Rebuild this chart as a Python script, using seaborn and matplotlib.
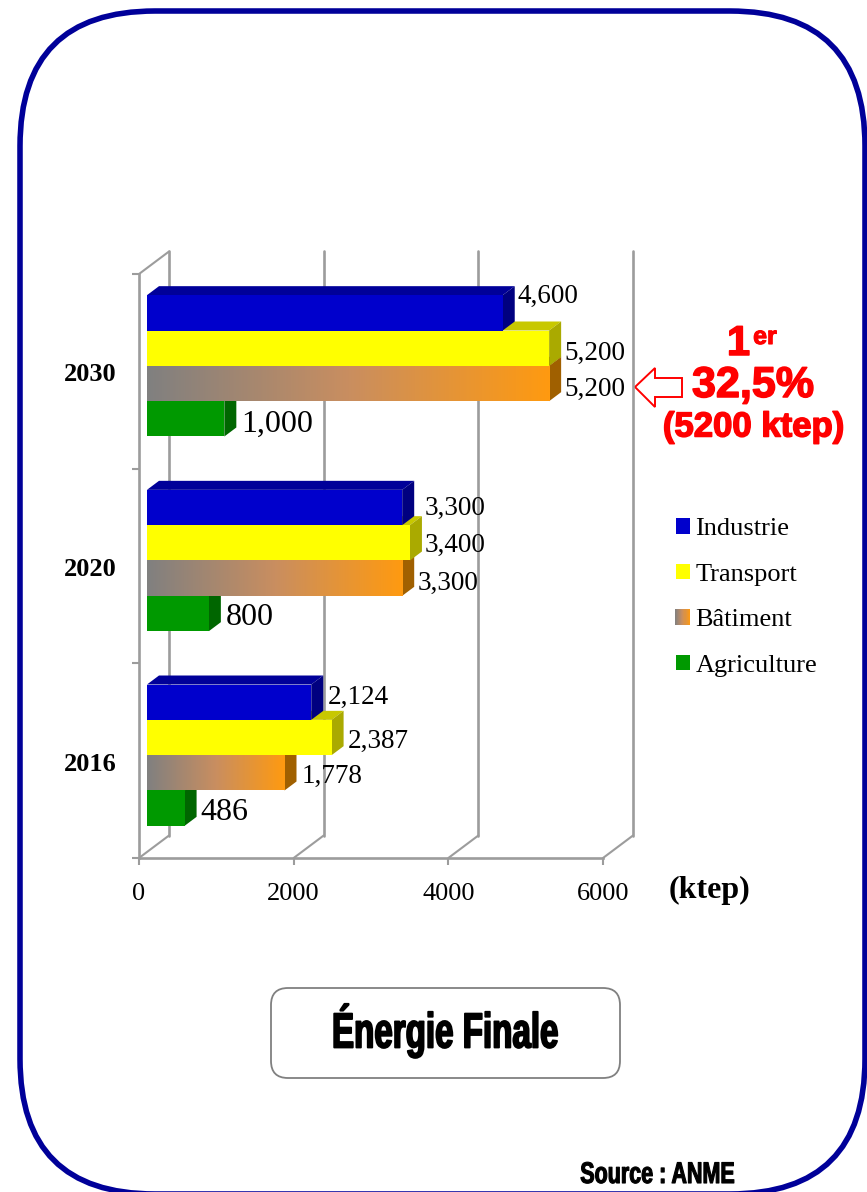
import numpy as np
import pandas as pd
import matplotlib
matplotlib.use("Agg")
import matplotlib.pyplot as plt
import matplotlib.patheffects as pe
from matplotlib.colors import LinearSegmentedColormap
from matplotlib.patches import FancyBboxPatch, Polygon, Patch, Rectangle
from matplotlib.legend_handler import HandlerBase
from matplotlib.transforms import Affine2D
import seaborn as sns

# ---- data
years = ["2030", "2020", "2016"]
sectors = ["Industrie", "Transport", "Bâtiment", "Agriculture"]
industrie = [4600, 3300, 2124]
transport = [5200, 3400, 2387]
batiment = [5200, 3300, 1778]
agriculture = [1000, 800, 486]
x_ticks = [0, 2000, 4000, 6000]

# ---- styles
front = ["#0000CC", "#FFFF00", "#808080", "#009900"]
top_col = ["#000099", "#C8C800", "#A86800", "#006E00"]
side_col = ["#000080", "#AAAA00", "#A06000", "#006600"]
GRID = "#9C9C9C"
RED = "#FF0000"
NAVY = "#000099"
grad_cmap = LinearSegmentedColormap.from_list("bat", ["#808080", "#C98E60", "#FF9A10"])

# label nudges in pixels relative to bar end / centre (dx, dy up)
label_dx = [[15, 15, 15, 17], [22, 15, 15, 17], [16, 16, 17, 16]]
label_dy = [[19, -2, -2.5, -2], [2, 0, -2, -1.5], [8, -1, -1, -1]]
label_fs = [19.5, 19.5, 19.5, 23]


class Condensed(pe.AbstractPathEffect):
    """Squeeze live text horizontally about cx (display px) and thicken it."""

    def __init__(self, cx, sx, lw, color):
        super().__init__()
        self.cx, self.sx, self.lw, self.color = cx, sx, lw, color

    def draw_path(self, renderer, gc, tpath, affine, rgbFace=None):
        aff = affine + Affine2D().translate(-self.cx, 0).scale(self.sx, 1).translate(self.cx, 0)
        gc0 = renderer.new_gc()
        gc0.copy_properties(gc)
        gc0.set_linewidth(self.lw)
        gc0.set_foreground(self.color)
        renderer.draw_path(gc0, tpath, aff, rgbFace)
        gc0.restore()


sns.set_theme(style="white")
plt.rcParams["font.family"] = ["Liberation Serif", "DejaVu Serif"]
plt.rcParams["text.color"] = "black"
W, H = 867, 1192
fig = plt.figure(figsize=(W / 100, H / 100), dpi=100, facecolor="white")

# ---- page decoration, in pixel coordinates
bg = fig.add_axes([0, 0, 1, 1], zorder=0)
bg.set_xlim(0, W)
bg.set_ylim(H, 0)
bg.axis("off")
bg.add_patch(FancyBboxPatch((20, 11), 845, 1183, boxstyle="round,pad=0,rounding_size=135",
                            fc="white", ec=NAVY, lw=4, clip_on=True))
bg.add_patch(FancyBboxPatch((271, 988), 349, 90, boxstyle="round,pad=0,rounding_size=17",
                            fc="white", ec="#808080", lw=1.3))
SANS = ["Liberation Sans", "DejaVu Sans"]
bg.text(445, 1031, "Énergie Finale", family=SANS, weight="bold", fontsize=35.5,
        ha="center", va="center", color="black",
        path_effects=[Condensed(445, 0.672, 1.3, "black")])
bg.text(657.5, 1175, "Source : ANME", family=SANS, weight="bold", fontsize=21.5,
        ha="center", va="center", color="black",
        path_effects=[Condensed(657.5, 0.72, 0.8, "black")])

red_fx = [pe.withStroke(linewidth=1.1, foreground=RED)]
bg.text(738.5, 344, "1", family=SANS, weight="bold", fontsize=30, ha="center", va="center",
        color=RED, path_effects=red_fx)
bg.text(765, 337, "er", family=SANS, weight="bold", fontsize=18, ha="center", va="center",
        color=RED, path_effects=[pe.withStroke(linewidth=0.8, foreground=RED)])
bg.text(753, 386, "32,5%", family=SANS, weight="bold", fontsize=31, ha="center", va="center",
        color=RED, path_effects=red_fx)
bg.text(753.5, 427, "(5200 ktep)", family=SANS, weight="bold", fontsize=25, ha="center", va="center",
        color=RED, path_effects=red_fx)
bg.add_patch(Polygon([(635, 387), (655, 368), (655, 378), (682, 378),
                      (682, 397), (655, 397), (655, 407)],
                     closed=True, fc="white", ec=RED, lw=1.4))
bg.text(709.5, 890, "(ktep)", weight="bold", fontsize=23, ha="center", va="center", color="black")

# ---- chart axes
ax = fig.add_axes([139 / W, 1 - 858 / H, (603 - 139) / W, (858 - 274) / H], zorder=1)
ax.patch.set_visible(False)
df = pd.DataFrame({
    "Année": np.tile(years, 4),
    "ktep": np.concatenate([industrie, transport, batiment, agriculture]),
    "Secteur": np.repeat(sectors, 3),
})
sns.barplot(data=df, y="Année", x="ktep", hue="Secteur", order=years, hue_order=sectors,
            palette=front, saturation=1, width=0.726, gap=0, dodge=True, legend=False,
            orient="h", ax=ax)

ax.set_xlim(0, 6000)
ax.set_ylim(2.5, -0.5)
ux = 6000 / (603 - 139)          # data units per pixel
uy = 3 / (858 - 274)
OFF_X, OFF_Y = 8 * ux, 5.5 * uy  # bars sit inside the floor depth
D_X, D_Y = 12 * ux, 9 * uy       # depth of a bar
WALL_X, WALL_Y = 30 * ux, 22.5 * uy

# back walls and floor
for t in x_ticks:
    ax.plot([t + WALL_X, t + WALL_X], [2.5 - WALL_Y, -0.5 - WALL_Y], color=GRID, lw=1.9,
            clip_on=False, zorder=1)
    ax.plot([t, t + WALL_X], [2.5, 2.5 - WALL_Y], color=GRID, lw=1.5, clip_on=False, zorder=1)
ax.plot([0, WALL_X], [-0.5, -0.5 - WALL_Y], color=GRID, lw=1.5, clip_on=False, zorder=1)

for s, (cont, sec) in enumerate(zip(ax.containers, sectors)):
    z = {0: 6, 1: 5, 2: 4, 3: 3}[s]
    for i, p in enumerate(cont.patches):
        v = p.get_width()
        p.set_x(OFF_X)
        p.set_y(p.get_y() - OFF_Y)
        p.set_zorder(z + 0.2)
        p.set_linewidth(0)
        p.set_clip_on(False)
        x0, x1 = OFF_X, OFF_X + v
        y0, y1 = p.get_y(), p.get_y() + p.get_height()   # y0 is the upper edge
        ax.add_patch(Polygon([(x0, y0), (x0 + D_X, y0 - D_Y), (x1 + D_X, y0 - D_Y), (x1, y0)],
                             closed=True, fc=top_col[s], lw=0, zorder=z, clip_on=False))
        ax.add_patch(Polygon([(x1, y0), (x1 + D_X, y0 - D_Y), (x1 + D_X, y1 - D_Y), (x1, y1)],
                             closed=True, fc=side_col[s], lw=0, zorder=z + 0.1, clip_on=False))
        if sec == "Bâtiment":
            ax.imshow(np.linspace(0, 1, 256)[None, :], extent=(x0, x1, y1, y0), aspect="auto",
                      cmap=grad_cmap, zorder=z + 0.3, interpolation="bilinear", clip_on=False)
        ax.annotate(f"{int(v):,}", xy=(x1, (y0 + y1) / 2),
                    xytext=(label_dx[i][s], label_dy[i][s] - 3), textcoords="offset pixels",
                    ha="left", va="center", fontsize=label_fs[s], color="black",
                    annotation_clip=False, zorder=10)
ax.set_xlim(0, 6000)
ax.set_ylim(2.5, -0.5)

# axes furniture
sns.despine(ax=ax, top=True, right=True)
for sp in ("left", "bottom"):
    ax.spines[sp].set_color(GRID)
    ax.spines[sp].set_linewidth(1.9)
ax.set_xlabel("")
ax.set_ylabel("")
ax.set_xticks(x_ticks)
ax.tick_params(axis="x", length=5, width=1.5, color=GRID, labelsize=19, labelcolor="black", pad=13,
               bottom=True)
ax.set_yticks(range(3))
ax.set_yticks([-0.5, 0.5, 1.5, 2.5], minor=True)
ax.tick_params(axis="y", which="major", length=0, pad=16, labelsize=19, labelcolor="black")
ax.tick_params(axis="y", which="minor", length=5, width=1.5, color=GRID, left=True)
for lab in ax.get_yticklabels():
    lab.set_fontweight("bold")
    lab.set_transform(lab.get_transform() + Affine2D().translate(0, -1))


# ---- legend, with a gradient key for Bâtiment
class GradientHandler(HandlerBase):
    def create_artists(self, legend, orig, xd, yd, width, height, fontsize, trans):
        n = 14
        w = (width + 1) / n
        return [Rectangle((-xd - 1 + j * w, -yd), w + 0.3, height, lw=0,
                          fc=grad_cmap((j + 0.5) / n), transform=trans) for j in range(n)]


handles = [Patch(fc=front[0], lw=0, label=sectors[0]),
           Patch(fc=front[1], lw=0, label=sectors[1]),
           Patch(fc=front[2], lw=0, label=sectors[2]),
           Patch(fc=front[3], lw=0, label=sectors[3])]
fig.legend(handles=handles, loc="upper left", bbox_to_anchor=(676 / W, 1 - 518 / H),
           frameon=False, fontsize=19, labelspacing=0.89, handlelength=0.53, handleheight=0.53,
           handletextpad=0.2, borderpad=0, borderaxespad=0, labelcolor="black",
           handler_map={handles[2]: GradientHandler()})

fig.savefig("out.png", dpi=100, facecolor="white")
